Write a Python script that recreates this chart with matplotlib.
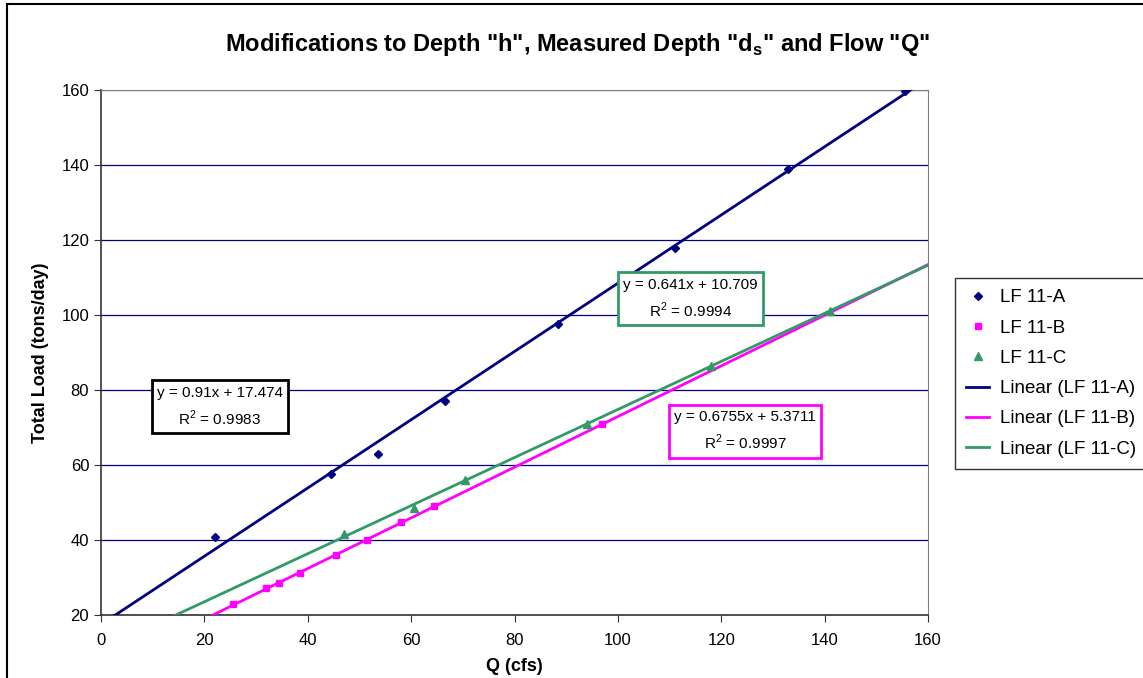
import numpy as np
import matplotlib
matplotlib.use("Agg")
import matplotlib.pyplot as plt
from matplotlib.patches import Rectangle

plt.rcParams['font.family'] = ['Liberation Sans', 'DejaVu Sans']
plt.rcParams['mathtext.fontset'] = 'custom'
plt.rcParams['mathtext.rm'] = 'Liberation Sans'
plt.rcParams['mathtext.bf'] = 'Liberation Sans:bold'

# data
q_a = [22.0, 44.5, 53.5, 66.5, 88.5, 111.0, 133.0, 155.5]
load_a = [40.8, 57.5, 63.0, 77.0, 97.5, 118.0, 139.0, 159.7]

q_b = [25.5, 32.0, 34.5, 38.5, 45.5, 51.5, 58.0, 64.5, 97.0]
load_b = [23.0, 27.2, 28.5, 31.3, 36.0, 40.0, 44.8, 49.2, 71.0]

q_c = [47.0, 60.5, 70.5, 94.0, 118.0, 141.0]
load_c = [41.5, 48.5, 56.0, 71.0, 86.3, 101.2]

names = ['LF 11-A', 'LF 11-B', 'LF 11-C']
slopes = [0.91, 0.6755, 0.641]
intercepts = [17.474, 5.3711, 10.709]
eq_text = ['y = 0.91x + 17.474', 'y = 0.6755x + 5.3711', 'y = 0.641x + 10.709']
r2_text = ['0.9983', '0.9997', '0.9994']

colors = ['#000080', '#FF00FF', '#339966']
markers = ['D', 's', '^']
msizes = [4.5, 5, 5.5]

fig = plt.figure(figsize=(11.43, 6.78), dpi=100)
fig.patches.append(Rectangle((7 / 1143, -0.1), 1.2, 1 - 4 / 678 + 0.1, transform=fig.transFigure,
                             fill=False, edgecolor='black', linewidth=1.5))
ax = fig.add_axes([101 / 1143, 1 - 615 / 678, (928 - 101) / 1143, (615 - 90) / 678])

xs = [q_a, q_b, q_c]
ys = [load_a, load_b, load_c]
for i in range(3):
    ax.plot(xs[i], ys[i], linestyle='none', marker=markers[i], markersize=msizes[i],
            color=colors[i], label=names[i], zorder=4)

xx = np.array([0.0, 160.0])
for i in range(3):
    ax.plot(xx, slopes[i] * xx + intercepts[i], color=colors[i], linewidth=2,
            label='Linear (' + names[i] + ')', zorder=3)

ax.set_xlim(0, 160)
ax.set_ylim(20, 160)
ax.set_xticks(range(0, 161, 20))
ax.set_yticks(range(20, 161, 20))
ax.yaxis.grid(True, color='#000080', linewidth=0.9)
ax.set_axisbelow(True)
ax.tick_params(direction='out', length=5, labelsize=12, color='#333333')
ax.tick_params(axis='x', pad=8)
for s in ['top', 'right']:
    ax.spines[s].set_color('#808080')
for s in ['left', 'bottom']:
    ax.spines[s].set_color('#333333')
    ax.spines[s].set_linewidth(1.2)

ax.set_xlabel('Q (cfs)', fontsize=13, fontweight='bold', labelpad=7)
ax.set_ylabel('Total Load (tons/day)', fontsize=13, fontweight='bold', labelpad=9)
fig.text(0.505, 1 - 44 / 678,
         'Modifications to Depth "h", Measured Depth "d$_\\mathregular{s}$" and Flow "Q"',
         ha='center', va='center', fontsize=17, fontweight='bold')

# equation boxes
box_pos = [(23.0, 75.5), (124.6, 69.0), (114.0, 104.3)]
box_edge = ['black', '#FF00FF', '#339966']
for i in range(3):
    ax.text(box_pos[i][0], box_pos[i][1], eq_text[i] + '\nR$^\\mathregular{2}$ = ' + r2_text[i],
            ha='center', va='center', fontsize=11, linespacing=1.55, zorder=6,
            bbox=dict(boxstyle='square,pad=0.35', facecolor='white', edgecolor=box_edge[i], linewidth=2))

h, l = ax.get_legend_handles_labels()
leg = fig.legend(h, l, loc='upper left', bbox_to_anchor=(955 / 1143, 1 - 278 / 678),
                 fontsize=13.5, frameon=True, fancybox=False, edgecolor='black',
                 handlelength=1.2, handletextpad=0.6, labelspacing=0.7, borderpad=0.6,
                 borderaxespad=0)
leg.get_frame().set_linewidth(1.0)

fig.savefig('out.png', dpi=100)
